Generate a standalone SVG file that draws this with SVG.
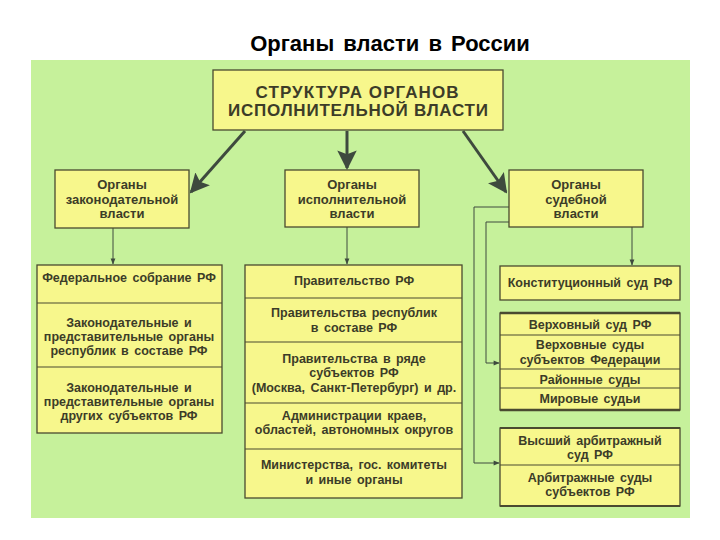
<svg xmlns="http://www.w3.org/2000/svg" width="720" height="540" viewBox="0 0 720 540">
<defs>
<style>
.bx{fill:#f7f78c;stroke:#4a4a30;stroke-width:1.3}
.sep{stroke:#4a4a30;stroke-width:1.2}
.t{font-family:"Liberation Sans",Arial,sans-serif;font-weight:bold;fill:#3c3c28;text-anchor:middle}
.h{font-size:13px}
.s{font-size:12.5px;word-spacing:2px}
.thick{stroke:#3e4a3e;stroke-width:3;fill:none}
.thin{stroke:#3e4a3e;stroke-width:1;fill:none}
</style>
<marker id="big" viewBox="0 0 10 10" refX="9" refY="5" markerWidth="6.5" markerHeight="6.5" markerUnits="strokeWidth" orient="auto">
<path d="M0,0 L10,5 L0,10 L2,5 Z" fill="#3e4a3e"/>
</marker>
<marker id="small" viewBox="0 0 10 10" refX="9" refY="5" markerWidth="8" markerHeight="6" markerUnits="userSpaceOnUse" orient="auto">
<path d="M0,1 L10,5 L0,9 Z" fill="#3e4a3e"/>
</marker>
</defs>
<rect width="720" height="540" fill="#ffffff"/>
<text x="390" y="51" font-family="Liberation Sans,Arial,sans-serif" font-weight="bold" font-size="22" text-anchor="middle" fill="#000" word-spacing="3">Органы власти в России</text>
<rect x="31" y="60" width="659" height="458" fill="#c6f19b"/>

<g id="connectors">
<line class="thick" x1="245" y1="131" x2="191" y2="192" marker-end="url(#big)"/>
<line class="thick" x1="347" y1="131" x2="347" y2="168" marker-end="url(#big)"/>
<line class="thick" x1="463" y1="131" x2="506" y2="192" marker-end="url(#big)"/>
<line class="thin" x1="113" y1="228" x2="113" y2="264" marker-end="url(#small)"/>
<line class="thin" x1="347" y1="227" x2="347" y2="264" marker-end="url(#small)"/>
<line class="thin" x1="632" y1="227" x2="632" y2="265" marker-end="url(#small)"/>
<polyline class="thin" points="509,207 474,207 474,463 499,463" marker-end="url(#small)"/>
<polyline class="thin" points="509,222 486,222 486,363 499,363" marker-end="url(#small)"/>
</g>

<g id="top">
<rect class="bx" x="213" y="70" width="290" height="60" stroke-width="2"/>
<text class="t" x="357" y="98" font-size="17" textLength="203" lengthAdjust="spacing">СТРУКТУРА ОРГАНОВ</text>
<text class="t" x="358" y="116" font-size="17" textLength="260" lengthAdjust="spacing">ИСПОЛНИТЕЛЬНОЙ ВЛАСТИ</text>
</g>

<g id="legislative">
<rect class="bx" x="55" y="170" width="134" height="58"/>
<text class="t h" x="122" y="189">Органы</text>
<text class="t h" x="122" y="203.5">законодательной</text>
<text class="t h" x="122" y="218">власти</text>
</g>

<g id="executive">
<rect class="bx" x="285" y="170" width="134" height="57"/>
<text class="t h" x="352" y="189">Органы</text>
<text class="t h" x="352" y="203.5">исполнительной</text>
<text class="t h" x="352" y="218">власти</text>
</g>

<g id="judicial">
<rect class="bx" x="509" y="170" width="134" height="57"/>
<text class="t h" x="576" y="189">Органы</text>
<text class="t h" x="576" y="203.5">судебной</text>
<text class="t h" x="576" y="218">власти</text>
</g>

<g id="leg-list">
<rect class="bx" x="37" y="265" width="185" height="168"/>
<line class="sep" x1="37" y1="303" x2="222" y2="303"/>
<line class="sep" x1="37" y1="367" x2="222" y2="367"/>
<text class="t s" x="129" y="282">Федеральное собрание РФ</text>
<text class="t s" x="129" y="327">Законодательные и</text>
<text class="t s" x="129" y="341">представительные органы</text>
<text class="t s" x="129" y="355">республик в составе РФ</text>
<text class="t s" x="129" y="392">Законодательные и</text>
<text class="t s" x="129" y="406">представительные органы</text>
<text class="t s" x="129" y="420">других субъектов РФ</text>
</g>

<g id="exec-list">
<rect class="bx" x="245" y="265" width="217" height="233"/>
<line class="sep" x1="245" y1="298" x2="462" y2="298"/>
<line class="sep" x1="245" y1="342" x2="462" y2="342"/>
<line class="sep" x1="245" y1="403" x2="462" y2="403"/>
<line class="sep" x1="245" y1="449" x2="462" y2="449"/>
<text class="t s" x="354" y="285">Правительство РФ</text>
<text class="t s" x="354" y="317">Правительства республик</text>
<text class="t s" x="354" y="332">в составе РФ</text>
<text class="t s" x="354" y="363">Правительства в ряде</text>
<text class="t s" x="354" y="377">субъектов РФ</text>
<text class="t s" x="354" y="392">(Москва, Санкт-Петербург) и др.</text>
<text class="t s" x="354" y="420">Администрации краев,</text>
<text class="t s" x="354" y="434">областей, автономных округов</text>
<text class="t s" x="354" y="469">Министерства, гос. комитеты</text>
<text class="t s" x="354" y="484">и иные органы</text>
</g>

<g id="const-court">
<rect class="bx" x="500" y="266" width="180" height="34"/>
<text class="t s" x="590" y="287">Конституционный суд РФ</text>
</g>

<g id="courts">
<rect class="bx" x="500" y="313" width="180" height="97"/>
<line x1="500" y1="313" x2="680" y2="313" stroke="#4a4a30" stroke-width="2.5"/>
<line x1="500" y1="410" x2="680" y2="410" stroke="#4a4a30" stroke-width="2.5"/>
<line class="sep" x1="500" y1="335" x2="680" y2="335"/>
<line class="sep" x1="500" y1="369" x2="680" y2="369"/>
<line class="sep" x1="500" y1="388" x2="680" y2="388"/>
<text class="t s" x="590" y="329">Верховный суд РФ</text>
<text class="t s" x="590" y="349">Верховные суды</text>
<text class="t s" x="590" y="364">субъектов Федерации</text>
<text class="t s" x="590" y="384">Районные суды</text>
<text class="t s" x="590" y="403">Мировые судьи</text>
</g>

<g id="arbitration">
<rect class="bx" x="500" y="428" width="180" height="78"/>
<line x1="500" y1="428" x2="680" y2="428" stroke="#4a4a30" stroke-width="2"/>
<line x1="500" y1="506" x2="680" y2="506" stroke="#4a4a30" stroke-width="2"/>
<line class="sep" x1="500" y1="465" x2="680" y2="465"/>
<text class="t s" x="590" y="445">Высший арбитражный</text>
<text class="t s" x="590" y="459">суд РФ</text>
<text class="t s" x="590" y="482">Арбитражные суды</text>
<text class="t s" x="590" y="496">субъектов РФ</text>
</g>
</svg>
